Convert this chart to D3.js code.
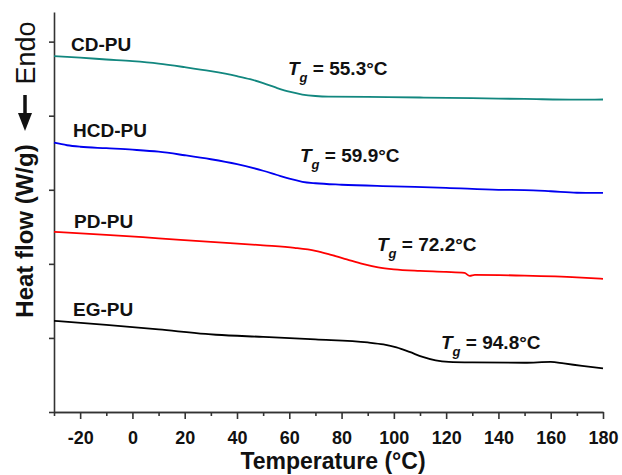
<!DOCTYPE html>
<html>
<head>
<meta charset="utf-8">
<script src="https://cdn.jsdelivr.net/npm/d3@7"></script>
<style>
body { margin: 0; background: #fff; }
svg text { font-family: "Liberation Sans", Arial, sans-serif; fill: #111; }
.axis path, .axis line { stroke: #333; stroke-width: 1.6; }
.axis text { font-size: 18px; font-weight: bold; }
.curve { fill: none; stroke-width: 1.8; }
</style>
</head>
<body>
<div class="chart"></div>
<script>
const WIDTH = 622;
const HEIGHT = 475;
const LEFT = 54, RIGHT = 603, BOTTOM = 412, TOP = 12;

// tick values
var majorTicks = [-20, 0, 20, 40, 60, 80, 100, 120, 140, 160, 180];
var minorTicks = [-30, -10, 10, 30, 50, 70, 90, 110, 130, 150, 170];
var flowTicks = [0, 1, 2, 3, 4, 5];

// series (temperature in C, heat flow offset in axis units)
var seriesNames = ["CD-PU", "HCD-PU", "PD-PU", "EG-PU"];
var tgValues = [55.3, 59.9, 72.2, 94.8];
var seriesColors = ["#12877f", "#0000f0", "#ff0000", "#000000"];

var cdPU = [[-30,4.804],[-20,4.784],[-10,4.759],[0,4.736],[10,4.703],[20,4.655],[30,4.601],[40,4.534],
  [45,4.493],[50,4.439],[55,4.378],[60,4.324],[65,4.286],[70,4.266],[75,4.257],[90,4.253],[110,4.246],
  [130,4.236],[150,4.226],[170,4.216],[180,4.219]];
var hcdPU = [[-30,3.635],[-25,3.601],[-20,3.581],[-10,3.561],[0,3.541],[10,3.514],[20,3.466],[30,3.412],
  [40,3.345],[50,3.257],[55,3.203],[60,3.149],[65,3.108],[70,3.088],[80,3.068],[100,3.047],[120,3.027],
  [140,3.0],[150,2.996],[160,2.98],[170,2.96],[180,2.958]];
var pdPU = [[-30,2.432],[-10,2.392],[10,2.345],[30,2.297],[50,2.25],[62,2.216],[70,2.176],[76,2.122],
  [82,2.061],[88,2.0],[94,1.953],[100,1.926],[110,1.905],[120,1.892],[127,1.878],[129,1.838],[131,1.851],
  [150,1.841],[170,1.818],[180,1.797]];
var egPU = [[-30,1.23],[-10,1.176],[10,1.115],[28,1.054],[32,1.043],[50,1.014],[70,0.98],[90,0.939],
  [96,0.912],[101,0.872],[106,0.811],[111,0.743],[116,0.696],[121,0.676],[130,0.669],[150,0.665],
  [160,0.676],[165,0.655],[172,0.622],[180,0.588]];

var allSeries = [cdPU, hcdPU, pdPU, egPU];

// label anchors (px)
var nameLabelPos = [[71, 51], [73, 137], [74, 228], [73, 316]];
var tgLabelPos = [[288, 75], [300, 162], [377, 251], [441, 349]];

var translate = function(x, y) {
  return "translate(" + x + "," + y + ")";
};

var drawChart = function() {
  var svg = d3.select(".chart").append("svg")
    .attr("width", WIDTH)
    .attr("height", HEIGHT);

  var xScale = d3.scaleLinear().domain([-30, 180]).range([LEFT, RIGHT]);
  var yScale = d3.scaleLinear().domain([0, 5.4]).range([BOTTOM, TOP]);

  // minor x ticks, no labels
  svg.append("g")
    .attr("class", "axis")
    .attr("transform", translate(0, BOTTOM))
    .call(d3.axisBottom(xScale).tickValues(minorTicks).tickSize(4).tickSizeOuter(0).tickFormat(""));

  svg.append("g")
    .attr("class", "axis")
    .attr("transform", translate(0, BOTTOM))
    .call(d3.axisBottom(xScale).tickValues(majorTicks).tickSize(7).tickSizeOuter(0).tickPadding(12)
      .tickFormat(function(d) { return String(d); }));

  svg.append("g")
    .attr("class", "axis")
    .attr("transform", translate(LEFT, 0))
    .call(d3.axisLeft(yScale).tickValues(flowTicks).tickSize(5).tickSizeOuter(0).tickFormat(""));

  var line = d3.line()
    .x(function(d) { return xScale(d[0]); })
    .y(function(d) { return yScale(d[1]); })
    .curve(d3.curveMonotoneX);

  svg.selectAll(".curve")
    .data(allSeries)
    .enter()
    .append("path")
    .attr("class", "curve")
    .attr("d", line)
    .style("stroke", function(d, i) { return seriesColors[i]; });

  svg.selectAll(".name")
    .data(seriesNames)
    .enter()
    .append("text")
    .attr("class", "name")
    .attr("x", function(d, i) { return nameLabelPos[i][0]; })
    .attr("y", function(d, i) { return nameLabelPos[i][1]; })
    .style("font-size", "19px")
    .style("font-weight", "bold")
    .text(function(d) { return d; });

  var tg = svg.selectAll(".tg")
    .data(tgValues)
    .enter()
    .append("text")
    .attr("class", "tg")
    .attr("x", function(d, i) { return tgLabelPos[i][0]; })
    .attr("y", function(d, i) { return tgLabelPos[i][1]; })
    .style("font-size", "19px")
    .style("font-weight", "bold");
  tg.append("tspan").style("font-style", "italic").text("T");
  tg.append("tspan").style("font-style", "italic").style("font-size", "13px")
    .attr("dy", 7).text("g");
  tg.append("tspan").attr("dy", -7).text(function(d) { return " = " + d.toFixed(1) + "°C"; });

  // axis titles
  svg.append("text")
    .attr("x", 333)
    .attr("y", 469)
    .attr("text-anchor", "middle")
    .style("font-size", "23px")
    .style("font-weight", "bold")
    .text("Temperature (°C)");

  svg.append("text")
    .attr("transform", translate(33, 231) + " rotate(-90)")
    .attr("text-anchor", "middle")
    .style("font-size", "24px")
    .style("font-weight", "bold")
    .text("Heat flow (W/g)");

  svg.append("text")
    .attr("transform", translate(35, 53) + " rotate(-90)")
    .attr("text-anchor", "middle")
    .style("font-size", "27px")
    .text("Endo");

  svg.append("line")
    .attr("x1", 25).attr("x2", 25)
    .attr("y1", 95).attr("y2", 116)
    .style("stroke", "#111")
    .style("stroke-width", 3.5);
  svg.append("path")
    .attr("d", "M18,113 L32,113 L25,131 Z")
    .style("fill", "#111");
};

window.onload = drawChart;
</script>
</body>
</html>
